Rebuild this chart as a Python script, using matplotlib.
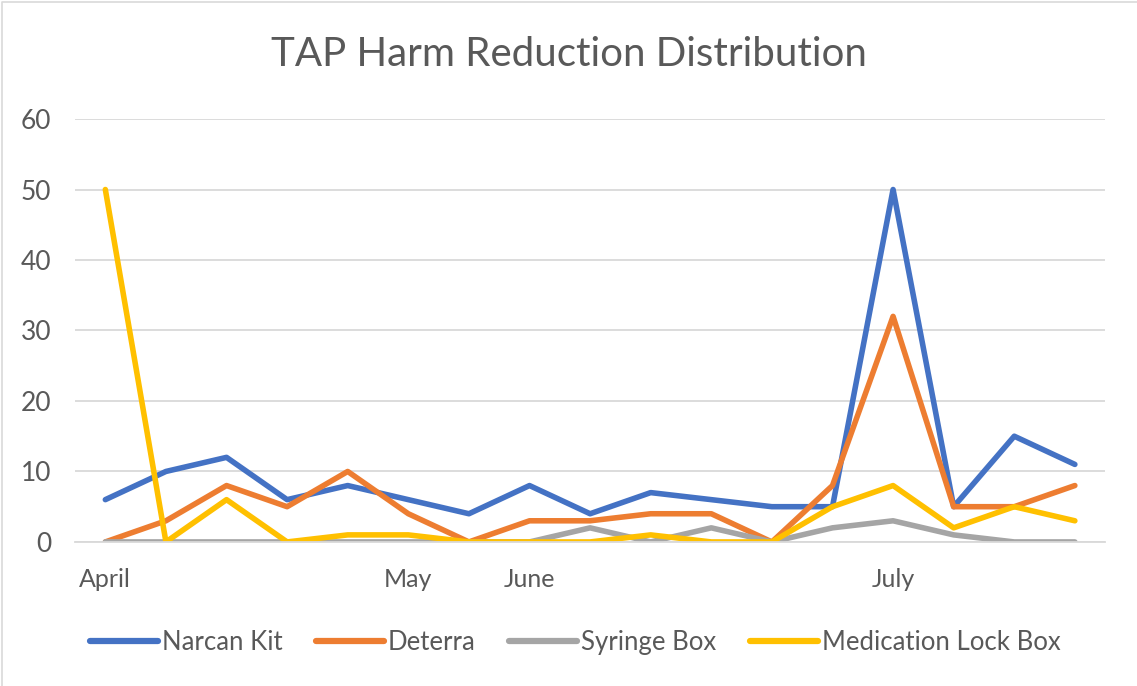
import matplotlib
matplotlib.use("Agg")
import matplotlib.pyplot as plt
from matplotlib.lines import Line2D

plt.rcParams["font.family"] = ["Lato", "DejaVu Sans"]

##### Data
periods = ["April", "", "", "", "", "May", "", "June", "", "", "", "", "", "July", "", "", ""]
narcan_kit = [6, 10, 12, 6, 8, 6, 4, 8, 4, 7, 6, 5, 5, 50, 5, 15, 11]
deterra = [0, 3, 8, 5, 10, 4, 0, 3, 3, 4, 4, 0, 8, 32, 5, 5, 8]
syringe_box = [0, 0, 0, 0, 0, 0, 0, 0, 2, 0, 2, 0, 2, 3, 1, 0, 0]
med_lock_box = [50, 0, 6, 0, 1, 1, 0, 0, 0, 1, 0, 0, 5, 8, 2, 5, 3]

series = [
    ("Narcan Kit", narcan_kit, "#4472C4"),
    ("Deterra", deterra, "#ED7D31"),
    ("Syringe Box", syringe_box, "#A5A5A5"),
    ("Medication Lock Box", med_lock_box, "#FFC000"),
]

text_col = "#595959"
grid_col = "#D9D9D9"

##### Plot
fig = plt.figure(figsize=(11.37, 6.86), dpi=100)
ax = fig.add_axes([0.066, 0.21, 0.906, 0.6165])

x = list(range(len(periods)))
for name, vals, col in series:
    ax.plot(x, vals, color=col, lw=4.0, label=name,
            solid_capstyle="round", solid_joinstyle="round")

ax.set_xlim(-0.5, len(periods) - 0.5)
ax.set_ylim(0, 60)
ax.set_yticks(range(0, 61, 10))
ax.set_xticks(x)
ax.set_xticklabels(periods)

ax.grid(axis="y", color=grid_col, lw=1.3)
ax.set_axisbelow(True)
for s in ["top", "right", "left"]:
    ax.spines[s].set_visible(False)
ax.spines["bottom"].set_color(grid_col)
ax.spines["bottom"].set_linewidth(1.3)

ax.tick_params(axis="y", length=0, pad=17, labelsize=19, labelcolor=text_col)
ax.tick_params(axis="x", length=0, pad=19, labelsize=18, labelcolor=text_col)

fig.text(0.5, 0.92, "TAP Harm Reduction Distribution", ha="center", va="center",
         fontsize=29, color=text_col)

leg = fig.legend(loc="center", bbox_to_anchor=(0.506, 0.064), ncol=4, frameon=False,
                 fontsize=18.5, handlelength=2.65, handletextpad=0.15, columnspacing=1.3,
                 labelcolor=text_col)
for h in leg.legend_handles:
    h.set_linewidth(4.5)
    h.set_solid_capstyle("round")

# chart border (left and top edges only visible)
fig.lines.append(Line2D([0.002, 0.002, 1.0], [0.0, 0.997, 0.997], transform=fig.transFigure,
                        color=grid_col, lw=1.2))

fig.savefig("out.png", dpi=100)
